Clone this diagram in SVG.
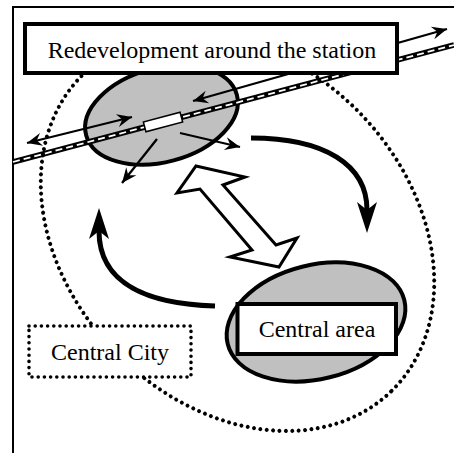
<svg xmlns="http://www.w3.org/2000/svg" width="454" height="453" viewBox="0 0 454 453">
  <style>
    .frame { fill: none; stroke: #000; stroke-width: 2; }
    .box { fill: #fff; stroke: #000; stroke-width: 4; }
    .area { fill: #c0c0c0; stroke: #000; stroke-width: 4; }
    .dots { fill: none; stroke: #000; stroke-width: 4; stroke-dasharray: 0 6.4; stroke-linecap: round; }
    .dotbox { fill: #fff; stroke: #000; stroke-width: 3.6; stroke-dasharray: 0 6.2; stroke-linecap: round; }
    .thin { fill: none; stroke: #000; stroke-width: 2.3; marker-end: url(#head); marker-start: url(#head); }
    .one { fill: none; stroke: #000; stroke-width: 2.3; marker-end: url(#head); }
    .flow { fill: none; stroke: #000; stroke-width: 5; marker-end: url(#bighead); }
    .label { font-family: "Liberation Serif", "Times New Roman", serif; font-size: 24px; fill: #000; text-anchor: middle; }
  </style>
  <defs>
    <marker id="head" viewBox="-16 -8 17 16" refX="0" refY="0" markerWidth="17" markerHeight="16" markerUnits="userSpaceOnUse" orient="auto-start-reverse">
      <path d="M0,0 L-15,-6.5 L-10,0 L-15,6.5 Z" fill="#000"/>
    </marker>
    <marker id="bighead" viewBox="-10 -12 34 24" refX="0" refY="0" markerWidth="34" markerHeight="24" markerUnits="userSpaceOnUse" orient="auto">
      <path d="M23,0 L-8,-10 L0,0 L-8,10 Z" fill="#000"/>
    </marker>
  </defs>

  <!-- page frame -->
  <path class="frame" d="M13,453 V7 H454"/>

  <!-- Central City boundary -->
  <g id="city-boundary">
    <ellipse class="dots" cx="237.5" cy="232.5" rx="221" ry="171" transform="rotate(46 237.5 232.5)"/>
  </g>

  <!-- station area -->
  <g id="station-area">
    <ellipse class="area" cx="161.5" cy="115" rx="78" ry="47" transform="rotate(-15 161.5 115)"/>
  </g>

  <!-- railway -->
  <g id="railway">
    <line x1="13" y1="162" x2="454" y2="45" stroke="#000" stroke-width="5.5"/>
    <line x1="13" y1="162" x2="454" y2="45" stroke="#fff" stroke-width="1.8" stroke-dasharray="7 4"/>
    <rect x="144" y="117" width="38" height="10" fill="#fff" stroke="#000" stroke-width="1.5" transform="rotate(-15 163 122)"/>
  </g>

  <!-- connectors -->
  <g id="connectors">
    <line class="thin" x1="27" y1="143" x2="132" y2="117"/>
    <line class="thin" x1="193" y1="101" x2="447" y2="29"/>
    <line class="one" x1="157" y1="139" x2="122" y2="183"/>
    <line class="one" x1="180" y1="133" x2="240" y2="147"/>
    <path class="flow" d="M251,138 C325,138 367,165 367,210"/>
    <path class="flow" d="M215,306 C150,304 99,285 99,231"/>
    <polygon points="196,166 245,177 223,185 276,245 297,238 279,267 230,257 252,250 200,189 177,193" fill="#fff" stroke="#000" stroke-width="3" stroke-linejoin="miter"/>
  </g>

  <g id="station-label">
    <rect class="box" x="25" y="24" width="372" height="49"/>
    <text class="label" x="212" y="58">Redevelopment around the station</text>
  </g>

  <g id="central-area">
    <ellipse class="area" cx="316" cy="322" rx="91" ry="57" transform="rotate(-14 316 322)"/>
    <rect class="box" x="237.5" y="304" width="158.5" height="50"/>
    <text class="label" x="317" y="337">Central area</text>
  </g>

  <g id="central-city">
    <rect class="dotbox" x="29" y="326" width="162" height="51"/>
    <text class="label" x="110" y="360">Central City</text>
  </g>
</svg>
